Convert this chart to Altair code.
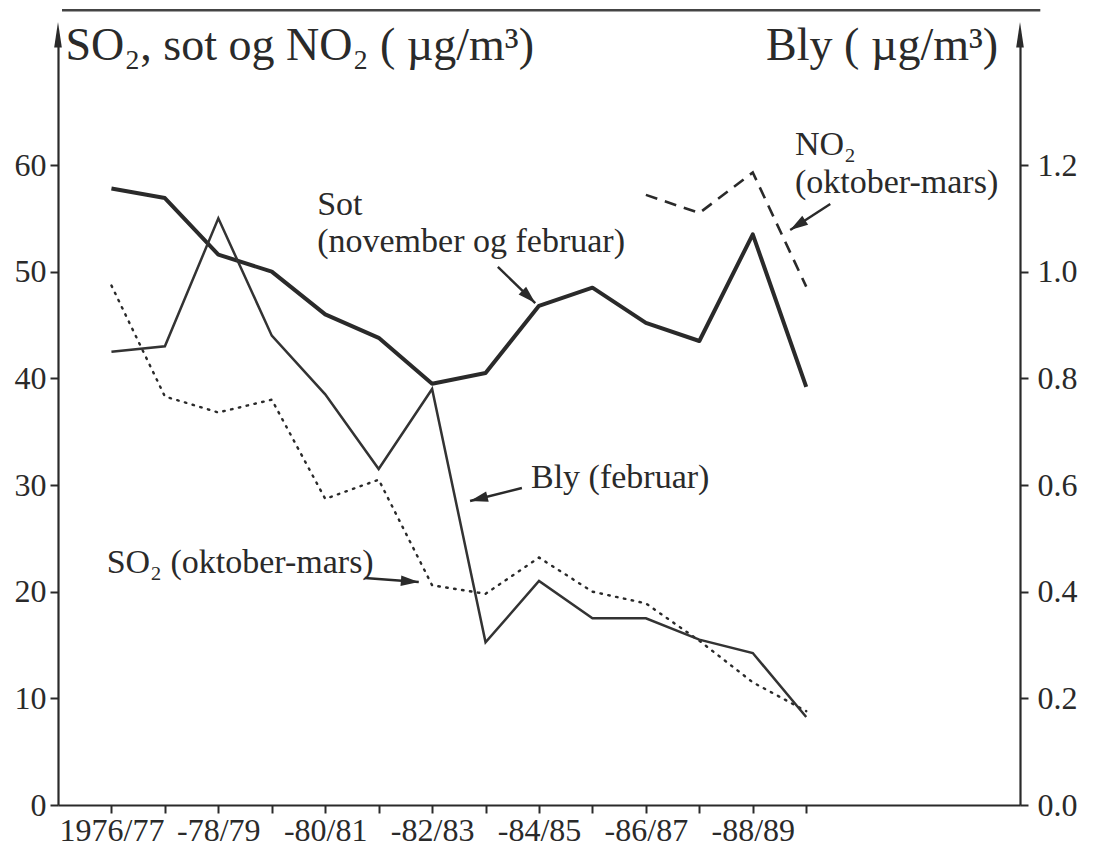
import math
import altair as alt
import pandas as pd

# ---- values -------------------------------------------------------------
seasons = ["1976/77", "1977/78", "1978/79", "1979/80", "1980/81", "1981/82",
           "1982/83", "1983/84", "1984/85", "1985/86", "1986/87", "1987/88",
           "1988/89", "1989/90"]
tick_labels = ["1976/77", "", "-78/79", "", "-80/81", "", "-82/83", "",
               "-84/85", "", "-86/87", "", "-88/89", ""]

# Sot (november og februar), ug/m3
sot = [57.8, 56.9, 51.6, 50.0, 46.0, 43.8, 39.5, 40.5, 46.8, 48.5, 45.2, 43.5, 53.5, 39.2]
# SO2 (oktober-mars), ug/m3
so2 = [48.7, 38.3, 36.8, 38.0, 28.7, 30.5, 20.6, 19.8, 23.2, 20.0, 18.9, 15.4, 11.5, 8.8]
# NO2 (oktober-mars), ug/m3 - measured from 1986/87 only
no2 = [None] * 10 + [57.2, 55.5, 59.3, 48.6]
# Bly (februar), ug/m3 - right-hand axis
bly = [0.85, 0.86, 1.10, 0.88, 0.77, 0.63, 0.78, 0.305, 0.42, 0.35, 0.35, 0.31, 0.285, 0.165]

left_ticks = [0, 10, 20, 30, 40, 50, 60]
right_ticks = [0.0, 0.2, 0.4, 0.6, 0.8, 1.0, 1.2]

# ---- layout -------------------------------------------------------------
W, H = 962, 768
X_MIN, X_MAX = -1, 17
Y_MAX = 72
PX_X = W / (X_MAX - X_MIN)
PX_Y = H / Y_MAX
FONT = "Liberation Serif, DejaVu Serif, serif"
INK = "#2a2a2a"

idx = list(range(len(seasons)))
df = pd.DataFrame({"i": idx, "season": seasons, "sot": sot, "so2": so2,
                   "no2": no2, "bly": bly})

xs = alt.Scale(domain=[X_MIN, X_MAX], nice=False, zero=False)
yl = alt.Scale(domain=[0, Y_MAX], nice=False)
yr = alt.Scale(domain=[0, Y_MAX / 50], nice=False)

label_expr = "[" + ",".join("'%s'" % t for t in tick_labels) + "][datum.value]"
x_axis = alt.Axis(values=idx, labelExpr=label_expr, title=None, grid=False,
                  tickSize=8, tickWidth=2, tickColor=INK, domainColor=INK,
                  domainWidth=2.2, labelFont=FONT, labelFontSize=32,
                  labelColor=INK, labelPadding=2, labelFlush=False,
                  labelOverlap=False)
left_axis = alt.Axis(values=left_ticks, format="d", title=None, grid=False,
                     orient="left", tickSize=8, tickWidth=2, tickColor=INK,
                     domainColor=INK, domainWidth=2.2, labelFont=FONT,
                     labelFontSize=32, labelColor=INK, labelPadding=4)
right_axis = alt.Axis(values=right_ticks, format=".1f", title=None, grid=False,
                      orient="right", tickSize=8, tickWidth=2, tickColor=INK,
                      domainColor=INK, domainWidth=2.2, labelFont=FONT,
                      labelFontSize=32, labelColor=INK, labelPadding=9)


def xq(field):
    return alt.X(field, type="quantitative", scale=xs, axis=x_axis)


def yq(field):
    return alt.Y(field, type="quantitative", scale=yl, axis=left_axis)


base = alt.Chart(df)

sot_line = base.mark_line(color=INK, strokeWidth=4, strokeJoin="round").encode(
    x=xq("i"), y=yq("sot"))
so2_line = base.mark_line(color=INK, strokeWidth=2.4, strokeDash=[1.5, 6.5],
                          strokeCap="round").encode(x=xq("i"), y=yq("so2"))
no2_line = base.transform_filter("isValid(datum.no2)").mark_line(
    color=INK, strokeWidth=2.6, strokeDash=[12, 8]).encode(x=xq("i"), y=yq("no2"))

# ---- annotations (in left-axis units) -----------------------------------
notes = pd.DataFrame({
    "x": [3.85, 3.85, 7.85, -0.09, 12.79, 12.79],
    "y": [55.3, 51.8, 29.7, 21.75, 60.9, 57.4],
    "text": ["Sot", "(november og februar)", "Bly (februar)",
             "SO\u2082 (oktober-mars)", "NO\u2082", "(oktober-mars)"],
})
note_text = alt.Chart(notes).mark_text(
    align="left", baseline="alphabetic", font=FONT, fontSize=34, color=INK
).encode(x=xq("x"), y=yq("y"), text="text:N")

arrows = pd.DataFrame({
    "x": [7.23, 7.68, 4.74, 13.45],
    "y": [50.44, 29.72, 21.28, 56.34],
    "x2": [7.93, 6.71, 5.75, 12.70],
    "y2": [47.06, 28.50, 20.90, 53.90],
})
arrows["ang"] = [
    math.degrees(math.atan2((r.x2 - r.x) * PX_X, (r.y2 - r.y) * PX_Y)) % 360
    for r in arrows.itertuples()
]
HEAD = "M0,0L0.6,2L-0.6,2Z"
arrow_shaft = alt.Chart(arrows).mark_rule(color=INK, strokeWidth=2.4).encode(
    x=xq("x"), x2="x2:Q", y=yq("y"), y2="y2:Q")
arrow_head = alt.Chart(arrows).mark_point(
    shape=HEAD, filled=True, size=320, opacity=1, color=INK
).encode(x=xq("x2"), y=yq("y2"), angle=alt.Angle("ang:Q", scale=None))

# arrowheads on top of both vertical axes and the rule above the frame
axis_tips = pd.DataFrame({"x": [X_MIN, X_MAX], "y": [73.4, 73.4]})
axis_arrow = alt.Chart(axis_tips).mark_point(
    shape="M0,0L0.3,2L-0.3,2Z", filled=True, size=650, opacity=1, color=INK
).encode(x=xq("x"), y=yq("y"))
frame_top = alt.Chart(pd.DataFrame({"x": [-0.925], "x2": [17.38], "y": [74.5]})).mark_rule(
    color="#444", strokeWidth=2.5
).encode(x=xq("x"), x2="x2:Q", y=yq("y"))

titles = pd.DataFrame({"x": [-0.86, 16.59], "y": [69.8, 69.8],
                       "text": ["SO\u2082, sot og NO\u2082 ( \u00b5g/m\u00b3)",
                                "Bly ( \u00b5g/m\u00b3)"]})
title_left = alt.Chart(titles.iloc[[0]]).mark_text(
    align="left", baseline="alphabetic", font=FONT, fontSize=46, color=INK
).encode(x=xq("x"), y=yq("y"), text="text:N")
title_right = alt.Chart(titles.iloc[[1]]).mark_text(
    align="right", baseline="alphabetic", font=FONT, fontSize=46, color=INK
).encode(x=xq("x"), y=yq("y"), text="text:N")

left_layer = alt.layer(sot_line, so2_line, no2_line, note_text, arrow_shaft,
                       arrow_head, axis_arrow, frame_top, title_left, title_right)

bly_line = base.mark_line(color="#333333", strokeWidth=2.5).encode(
    x=xq("i"), y=alt.Y("bly:Q", scale=yr, axis=right_axis))

chart = alt.layer(left_layer, bly_line).resolve_scale(y="independent").properties(
    width=W, height=H, autosize="none",
    padding={"left": 58, "top": 37, "right": 76, "bottom": 45},
    background="white",
).configure_view(stroke=None)

chart.save("out.html", embed_options={"renderer": "svg", "actions": False})
